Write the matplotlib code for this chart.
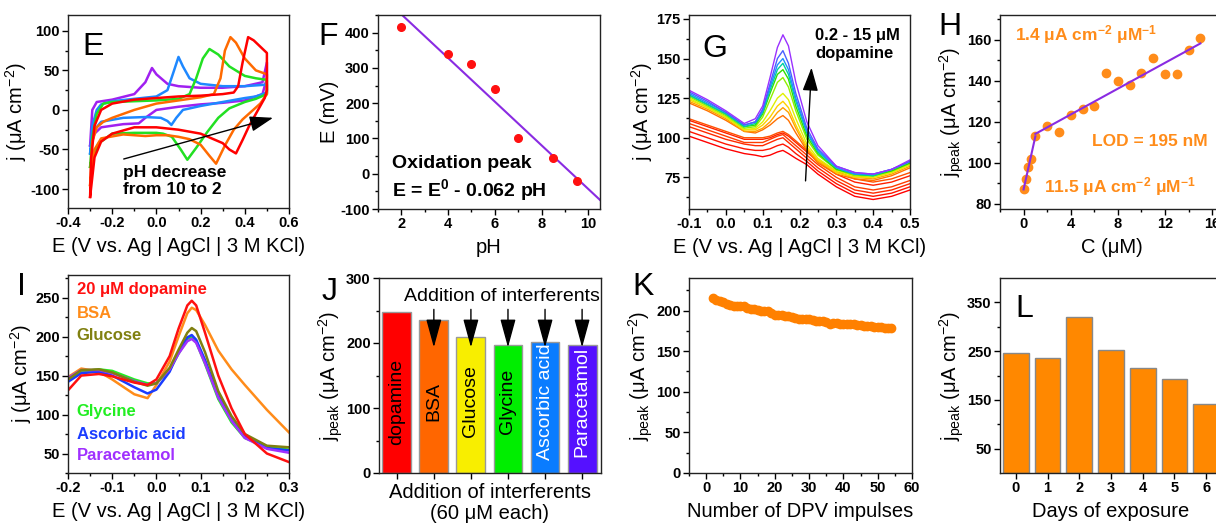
import numpy as np
import matplotlib
matplotlib.use('Agg')
import matplotlib.pyplot as plt
from matplotlib.ticker import MultipleLocator

plt.rcParams['font.family'] = ['Liberation Sans', 'DejaVu Sans']
plt.rcParams['font.weight'] = 'bold'
plt.rcParams['mathtext.fontset'] = 'custom'
plt.rcParams['mathtext.rm'] = 'Liberation Sans'
plt.rcParams['mathtext.default'] = 'regular'
plt.rcParams['axes.unicode_minus'] = False

# ---------------- E : CVs at different pH ----------------
cv_ph2_E = [-0.30, -0.295, -0.28, -0.25, -0.20, -0.10, 0.00, 0.10, 0.20, 0.30, 0.35, 0.37, 0.39, 0.415, 0.44, 0.47, 0.50,
            0.50, 0.49, 0.47, 0.45, 0.42, 0.39, 0.36, 0.33, 0.30, 0.25, 0.20, 0.10, 0.00, -0.10, -0.20, -0.25, -0.28, -0.30]
cv_ph2_j = [-110, -60, -20, 0, 8, 13, 15, 17, 18, 20, 22, 30, 60, 92, 88, 80, 72,
            25, 15, 5, -5, -20, -38, -55, -50, -42, -36, -30, -25, -22, -22, -30, -40, -60, -110]
cv_ph4_E = [-0.30, -0.29, -0.27, -0.24, -0.20, -0.10, 0.00, 0.10, 0.20, 0.26, 0.29, 0.31, 0.335, 0.36, 0.40, 0.45, 0.50,
            0.50, 0.47, 0.43, 0.39, 0.35, 0.31, 0.27, 0.24, 0.20, 0.15, 0.10, 0.05, 0.00, -0.05, -0.15, -0.25, -0.28, -0.30]
cv_ph4_j = [-95, -40, -22, -15, -10, 0, 8, 12, 16, 20, 40, 75, 92, 85, 65, 50, 45,
            20, 8, -2, -12, -25, -45, -68, -58, -44, -37, -34, -32, -32, -33, -31, -36, -50, -95]
cv_ph6_E = [-0.30, -0.29, -0.27, -0.24, -0.20, -0.10, 0.00, 0.10, 0.15, 0.18, 0.21, 0.24, 0.28, 0.33, 0.40, 0.45, 0.50,
            0.50, 0.45, 0.40, 0.33, 0.28, 0.23, 0.18, 0.14, 0.11, 0.07, 0.03, 0.00, -0.10, -0.20, -0.26, -0.29, -0.30]
cv_ph6_j = [-72, -35, -5, 8, 10, 11, 12, 14, 20, 40, 65, 77, 70, 55, 43, 40, 38,
            20, 14, 10, 2, -10, -28, -48, -63, -50, -34, -30, -29, -29, -30, -42, -60, -72]
cv_ph8_E = [-0.30, -0.29, -0.27, -0.25, -0.20, -0.10, 0.00, 0.05, 0.08, 0.10, 0.12, 0.15, 0.20, 0.30, 0.40, 0.50,
            0.50, 0.45, 0.40, 0.30, 0.20, 0.12, 0.09, 0.068, 0.05, 0.02, -0.05, -0.15, -0.25, -0.28, -0.30]
cv_ph8_j = [-55, -20, 0, 7, 11, 14, 17, 25, 50, 67, 55, 40, 33, 30, 30, 32,
            22, 17, 15, 10, 5, 0, -10, -19, -14, -10, -9, -10, -15, -25, -55]
cv_ph10_E = [-0.30, -0.29, -0.27, -0.20, -0.10, -0.05, -0.02, 0.00, 0.05, 0.10, 0.20, 0.30, 0.40, 0.48, 0.50,
             0.50, 0.48, 0.40, 0.30, 0.20, 0.10, 0.00, -0.05, -0.08, -0.15, -0.25, -0.28, -0.30]
cv_ph10_j = [-45, 0, 10, 13, 20, 35, 53, 45, 33, 30, 28, 28, 30, 35, 60,
             40, 20, 12, 9, 7, 4, 0, -10, -17, -18, -22, -30, -45]

# ---------------- F : peak potential vs pH ----------------
ph_values = [2, 4, 5, 6, 7, 8.5, 9.5]
e_peak_mV = [415, 340, 310, 240, 100, 45, -20]

# ---------------- G : DPV calibration curves ----------------
dpv_E = [-0.1, -0.05, 0.0, 0.05, 0.08, 0.1, 0.12, 0.14, 0.155, 0.17, 0.19, 0.22, 0.25, 0.3, 0.35, 0.4, 0.45, 0.5]
dpv_curves = [
    [101, 97, 93, 90, 89, 88, 89, 91, 92, 90, 87, 83, 77, 69, 63, 61, 63, 67],
    [104, 100, 96, 93, 92, 92, 93, 95, 96, 94, 90, 85, 79, 71, 65, 63, 65, 69],
    [107, 103, 99, 96, 95, 95, 97, 99, 100, 97, 93, 87, 81, 73, 67, 65, 67, 71],
    [109, 105, 101, 97, 97, 97, 99, 101, 102, 99, 95, 89, 83, 75, 69, 67, 69, 73],
    [111, 107, 103, 99, 99, 99, 100, 102, 103, 101, 97, 91, 85, 77, 72, 70, 72, 76],
    [112, 108, 104, 100, 100, 100, 101, 103, 104, 102, 98, 92, 86, 79, 74, 72, 74, 78],
    [122, 117, 111, 104, 103, 105, 108, 112, 114, 111, 103, 92, 84, 77, 74, 73, 76, 81],
    [123, 118, 112, 104, 104, 106, 110, 116, 119, 116, 106, 93, 85, 78, 75, 74, 77, 82],
    [124, 119, 113, 105, 105, 108, 113, 120, 123, 119, 108, 94, 86, 78, 75, 75, 78, 83],
    [125, 119, 113, 105, 106, 110, 117, 125, 128, 124, 112, 96, 87, 79, 76, 75, 78, 83],
    [126, 120, 114, 106, 107, 113, 124, 135, 138, 132, 117, 99, 89, 80, 76, 76, 79, 84],
    [127, 121, 115, 107, 108, 115, 128, 140, 143, 137, 120, 101, 90, 80, 77, 76, 79, 84],
    [127, 121, 115, 107, 109, 116, 130, 143, 147, 140, 123, 103, 91, 81, 77, 76, 80, 85],
    [128, 122, 116, 108, 110, 117, 132, 146, 150, 143, 125, 104, 92, 81, 77, 77, 80, 85],
    [129, 123, 116, 108, 110, 118, 134, 150, 155, 147, 128, 106, 93, 82, 78, 77, 80, 85],
    [130, 124, 117, 109, 112, 120, 138, 157, 165, 158, 135, 110, 95, 82, 78, 77, 80, 86],
]
dpv_colors = ['#ff0000', '#ff1500', '#ff2a00', '#ff3c00', '#ff2000', '#ff5000', '#ff7000', '#ffa000',
              '#ffd000', '#e0f000', '#90f000', '#30e000', '#00d0a0', '#1e90ff', '#4a60ff', '#9a30ff']

# ---------------- H : calibration ----------------
conc_uM = [0, 0.2, 0.4, 0.6, 1, 2, 3, 4, 5, 6, 7, 8, 9, 10, 11, 12, 13, 14, 15]
j_peak_cal = [87, 92, 98, 102, 113, 117.7, 115, 123.4, 126.3, 127.8, 143.7, 139.7, 137.9, 143.7, 151, 143.4, 143.4, 155.1, 160.8]

# ---------------- I : interferents DPV ----------------
int_E = [-0.2, -0.17, -0.13, -0.1, -0.05, -0.02, 0.0, 0.03, 0.05, 0.07, 0.08, 0.09, 0.11, 0.14, 0.17, 0.2, 0.25, 0.3]
int_dopamine = [131, 150, 152, 149, 141, 138, 145, 175, 210, 240, 246, 240, 205, 150, 108, 75, 50, 39]
int_bsa = [148, 159, 155, 145, 126, 121, 138, 168, 200, 230, 237, 234, 215, 182, 158, 138, 106, 77]
int_glucose = [145, 157, 158, 154, 142, 137, 140, 160, 183, 205, 211, 207, 180, 130, 98, 75, 60, 58]
int_glycine = [143, 155, 158, 156, 145, 140, 140, 157, 178, 197, 199, 193, 165, 120, 90, 70, 58, 55]
int_ascorbic = [142, 153, 155, 150, 135, 127, 132, 155, 180, 199, 202, 196, 170, 125, 93, 72, 57, 54]
int_paracetamol = [147, 157, 157, 153, 143, 138, 140, 158, 178, 194, 197, 192, 166, 122, 92, 70, 56, 51]

# ---------------- J : bar chart of interferents ----------------
interferents = ['dopamine', 'BSA', 'Glucose', 'Glycine', 'Ascorbic acid', 'Paracetamol']
interf_jpeak = [247, 236, 209, 197, 201, 197]
interf_colors = ['#ff0000', '#ff6600', '#f8ee00', '#00ee00', '#0a7cff', '#5511ff']
interf_text_colors = ['black', 'black', 'black', 'black', 'white', 'white']

# ---------------- K : repeated DPV ----------------
n_impulses = list(range(2, 55))
k_jpeak = [215, 213, 212, 210, 208, 207, 206, 205, 206, 205, 203, 202, 202, 201, 200, 199, 199, 197, 195, 195,
           194, 193, 193, 192, 191, 190, 190, 190, 189, 188, 187, 187, 187, 186, 184, 185, 185, 184, 184, 183,
           183, 183, 182, 182, 181, 181, 181, 180, 180, 180, 179, 179, 178]

# ---------------- L : stability over days ----------------
days = [0, 1, 2, 3, 4, 5, 6]
days_jpeak = [246, 235, 319, 252, 215, 193, 141]

W, H = 1216, 524


def add_axes_px(fig, left, top, right, bottom):
    return fig.add_axes([left / W, 1 - bottom / H, (right - left) / W, (bottom - top) / H])


def style_axes(ax, xmaj=None, xmin=None, ymaj=None, ymin=None):
    if xmaj: ax.xaxis.set_major_locator(MultipleLocator(xmaj))
    if xmin: ax.xaxis.set_minor_locator(MultipleLocator(xmin))
    if ymaj: ax.yaxis.set_major_locator(MultipleLocator(ymaj))
    if ymin: ax.yaxis.set_minor_locator(MultipleLocator(ymin))
    ax.tick_params(which='both', direction='out', top=False, right=False, labelsize=10.5, width=1, pad=2)
    ax.tick_params(which='major', length=4)
    ax.tick_params(which='minor', length=2.5)
    for s in ax.spines.values():
        s.set_linewidth(1)
        s.set_color('#222222')


def set_labels(ax, xl, yl, xpad=5):
    ax.set_xlabel(xl, fontsize=14.5, fontweight='normal', labelpad=xpad, linespacing=1.15)
    ax.set_ylabel(yl, fontsize=14.5, fontweight='normal', labelpad=1)


def panel_letter(fig, x, y, s):
    fig.text(x / W, 1 - y / H, s, fontsize=23, fontweight='normal', va='baseline', ha='left')


def main():
    fig = plt.figure(figsize=(W / 100, H / 100), dpi=100)
    jlabel = 'j (μA cm$^{-2}$)'
    jpeak_label = 'j$_{peak}$ (μA cm$^{-2}$)'
    e_label = 'E (V vs. Ag | AgCl | 3 M KCl)'
    arrow = dict(arrowstyle='-|>,head_length=0.9,head_width=0.3', color='black', lw=1, mutation_scale=16)

    # E
    ax = add_axes_px(fig, 68, 15, 289, 208)
    for e, j, c in [(cv_ph10_E, cv_ph10_j, '#a020f0'), (cv_ph8_E, cv_ph8_j, '#1e88ff'),
                    (cv_ph6_E, cv_ph6_j, '#22e022'), (cv_ph4_E, cv_ph4_j, '#ff6a00'),
                    (cv_ph2_E, cv_ph2_j, '#ff0000')]:
        ax.plot(e, j, color=c, lw=1.8)
    ax.set_xlim(-0.4, 0.6)
    ax.set_ylim(-124, 120)
    style_axes(ax, 0.2, 0.1, 50, 25)
    set_labels(ax, e_label, jlabel)
    ax.annotate('', xy=(0.54, -9), xytext=(-0.16, -63), arrowprops=arrow)
    ax.text(-0.15, -90, 'pH decrease\nfrom 10 to 2', fontsize=12.5, va='center', ha='left', linespacing=1.2)
    panel_letter(fig, 82, 55, 'E')

    # F
    ax = add_axes_px(fig, 378, 15, 600, 209)
    ax.plot(ph_values, e_peak_mV, 'o', color='#ff1010', ms=5.5, zorder=3)
    slope, icpt = np.polyfit(ph_values, e_peak_mV, 1)
    xx = np.array([1, 10.5])
    ax.plot(xx, slope * xx + icpt, color='#8a2be2', lw=1.5)
    ax.set_xlim(1, 10.5)
    ax.set_ylim(-100, 450)
    style_axes(ax, 2, 1, 100, 50)
    set_labels(ax, 'pH', 'E (mV)')
    ax.text(1.6, 30, 'Oxidation peak', fontsize=14, va='center')
    ax.text(1.6, -46, 'E = E$^0$ - 0.062 pH', fontsize=14, va='center')
    panel_letter(fig, 318, 45, 'F')

    # G
    ax = add_axes_px(fig, 689, 15, 910, 209)
    for y, c in zip(dpv_curves, dpv_colors):
        ax.plot(dpv_E, y, color=c, lw=1)
    ax.set_xlim(-0.1, 0.5)
    ax.set_ylim(55, 177.5)
    style_axes(ax, 0.1, 0.05, 25, 12.5)
    set_labels(ax, e_label, jlabel)
    ax.annotate('', xy=(0.233, 146), xytext=(0.216, 71), arrowprops=arrow)
    ax.text(0.242, 159, '0.2 - 15 μM\ndopamine', fontsize=12, va='center', ha='left', linespacing=1.25)
    panel_letter(fig, 702, 57, 'G')

    # H
    ax = add_axes_px(fig, 1000, 15, 1224, 209)
    orange = '#ff8c1a'
    ax.plot(conc_uM, j_peak_cal, 'o', color=orange, ms=6, zorder=3)
    c = np.array(conc_uM)
    j = np.array(j_peak_cal)
    lo = c <= 1
    hi = c >= 1
    s1, b1 = np.polyfit(c[lo], j[lo], 1)
    s2, b2 = np.polyfit(c[hi], j[hi], 1)
    ax.plot([0, 1], [b1, s1 + b1], color='#8a2be2', lw=1.5, zorder=4)
    ax.plot([1, 15], [s2 + b2, s2 * 15 + b2], color='#8a2be2', lw=1.5, zorder=4)
    ax.set_xlim(-2, 17)
    ax.set_ylim(77.5, 172)
    style_axes(ax, 4, 2, 20, 10)
    set_labels(ax, 'C (μM)', jpeak_label)
    ax.text(-0.73, 162.4, '1.4 μA cm$^{-2}$ μM$^{-1}$', color=orange, fontsize=12.5, va='center')
    ax.text(5.78, 110.4, 'LOD = 195 nM', color=orange, fontsize=12.5, va='center')
    ax.text(1.73, 88.4, '11.5 μA cm$^{-2}$ μM$^{-1}$', color=orange, fontsize=12.5, va='center')
    panel_letter(fig, 938, 35, 'H')

    # I
    ax = add_axes_px(fig, 68, 275, 289, 473)
    series = [(int_bsa, '#ff8c1a'), (int_glycine, '#22ee22'), (int_ascorbic, '#1a3cff'),
              (int_paracetamol, '#a030ff'), (int_glucose, '#808010'), (int_dopamine, '#ff1010')]
    for y, col in series:
        ax.plot(int_E, y, color=col, lw=1.8)
    ax.set_xlim(-0.2, 0.3)
    ax.set_ylim(25, 279)
    style_axes(ax, 0.1, 0.05, 50, 25)
    set_labels(ax, e_label, jlabel)
    legend_items = [('20 μM dopamine', '#ff1010', 260), ('BSA', '#ff8c1a', 230), ('Glucose', '#808010', 202),
                    ('Glycine', '#22ee22', 103.5), ('Ascorbic acid', '#1a3cff', 75), ('Paracetamol', '#a030ff', 48)]
    for txt, col, yy in legend_items:
        ax.text(-0.18, yy, txt, color=col, fontsize=12, va='center', ha='left')
    panel_letter(fig, 17, 295, 'I')

    # J
    ax = add_axes_px(fig, 379, 278, 601, 473)
    xpos = np.arange(len(interferents))
    ax.bar(xpos, interf_jpeak, width=0.78, color=interf_colors, edgecolor='#999999', lw=1)
    for i, name in enumerate(interferents):
        ax.text(xpos[i], 110, name, rotation=90, ha='center', va='center', fontsize=14,
                fontweight='normal', color=interf_text_colors[i])
    for i in xpos[1:]:
        ax.annotate('', xy=(i, 189), xytext=(i, 256),
                    arrowprops=dict(arrowstyle='-|>,head_length=1.1,head_width=0.3', color='black', lw=1, mutation_scale=16))
    ax.text(2.85, 272, 'Addition of interferents', fontsize=14, fontweight='normal', ha='center', va='center')
    ax.set_xlim(-0.48, 5.51)
    ax.set_ylim(0, 300)
    ax.set_xticks(xpos)
    ax.set_xticklabels([])
    style_axes(ax, None, None, 100, 50)
    set_labels(ax, 'Addition of interferents\n(60 μM each)', jpeak_label, xpad=1)
    panel_letter(fig, 322, 300, 'J')

    # K
    ax = add_axes_px(fig, 689, 278, 912, 473)
    ax.plot(n_impulses, k_jpeak, 'o', color='#ff8000', ms=6)
    ax.set_xlim(-5, 60)
    ax.set_ylim(0, 240)
    style_axes(ax, 10, 5, 50, 25)
    set_labels(ax, 'Number of DPV impulses', jpeak_label)
    panel_letter(fig, 632, 295, 'K')

    # L
    ax = add_axes_px(fig, 1000, 278, 1222, 473)
    ax.bar(days, days_jpeak, width=0.81, color='#ff8800', edgecolor='#888888', lw=1)
    ax.set_xlim(-0.5, 6.5)
    ax.set_ylim(0, 400)
    ax.set_xticks(days)
    ax.set_yticks([50, 150, 250, 350])
    ax.set_yticks([100, 200, 300], minor=True)
    style_axes(ax)
    set_labels(ax, 'Days of exposure', jpeak_label)
    panel_letter(fig, 1015, 317, 'L')

    fig.savefig('out.png', dpi=100)


if __name__ == "__main__":
    main()
